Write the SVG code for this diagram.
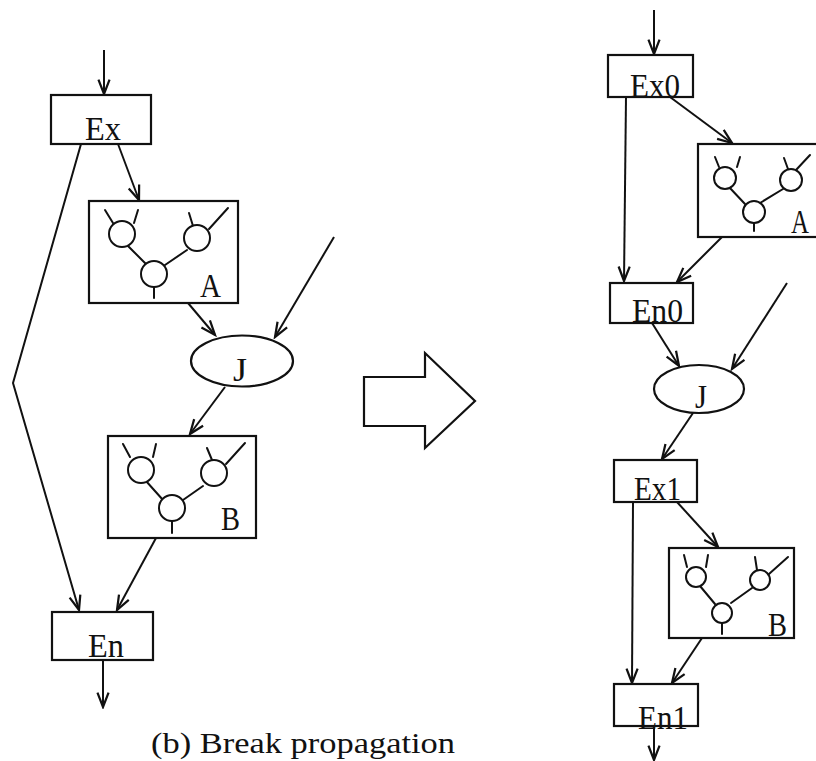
<svg xmlns="http://www.w3.org/2000/svg" width="816" height="761" viewBox="0 0 816 761">
<style>
.bx{fill:none;stroke:#111;stroke-width:2.2}
.ln{fill:none;stroke:#111;stroke-width:2;stroke-linecap:round}
.ar{fill:none;stroke:#111;stroke-width:2;marker-end:url(#ah)}
.c{fill:#fff;stroke:#111;stroke-width:2}
.t{font-family:"Liberation Serif","DejaVu Serif",serif;font-size:33px;fill:#111}
.cap{font-family:"Liberation Serif","DejaVu Serif",serif;font-size:29px;fill:#111}
</style>
<defs>
<marker id="ah" markerUnits="userSpaceOnUse" markerWidth="20" markerHeight="20" viewBox="-16 -8 18 16" refX="0" refY="0" orient="auto">
<path d="M-13,-5 L0,0 L-13,5" fill="none" stroke="#111" stroke-width="2"/>
</marker>
</defs>
<rect width="816" height="761" fill="#fff"/>

<g id="connectors">
<line class="ar" x1="104" y1="50" x2="104" y2="94"/>
<polyline class="ar" points="81,144 13,383 79,610"/>
<line class="ar" x1="118" y1="144" x2="139" y2="200"/>
<line class="ar" x1="188" y1="303" x2="215" y2="335"/>
<line class="ar" x1="334" y1="237" x2="275" y2="337"/>
<line class="ar" x1="225" y1="387" x2="190" y2="434"/>
<line class="ar" x1="156" y1="538" x2="117" y2="610"/>
<line class="ar" x1="103" y1="660" x2="103" y2="707"/>

<line class="ar" x1="654" y1="10" x2="654" y2="54"/>
<line class="ar" x1="626" y1="97" x2="624" y2="281"/>
<line class="ar" x1="670" y1="97" x2="732" y2="143"/>
<line class="ar" x1="722" y1="237" x2="677" y2="282"/>
<line class="ar" x1="652" y1="323" x2="679" y2="366"/>
<line class="ar" x1="787" y1="283" x2="732" y2="369"/>
<line class="ar" x1="693" y1="413" x2="662" y2="459"/>
<line class="ar" x1="633" y1="502" x2="632" y2="683"/>
<line class="ar" x1="677" y1="502" x2="718" y2="547"/>
<line class="ar" x1="702" y1="638" x2="672" y2="683"/>
<line class="ar" x1="654" y1="726" x2="654" y2="760"/>
</g>

<g id="ex">
<rect class="bx" x="51" y="95" width="100" height="49"/>
<text class="t" x="85" y="140" textLength="36" lengthAdjust="spacingAndGlyphs">Ex</text>
</g>

<g id="a">
<rect class="bx" x="89" y="201" width="149" height="102"/>
<line class="ln" x1="105" y1="210" x2="113" y2="223"/>
<line class="ln" x1="138" y1="210" x2="134" y2="223"/>
<line class="ln" x1="189" y1="213" x2="193" y2="226"/>
<line class="ln" x1="228" y1="208" x2="209" y2="229"/>
<line class="ln" x1="128" y1="246" x2="147" y2="265"/>
<line class="ln" x1="187" y1="250" x2="165" y2="265"/>
<line class="ln" x1="154" y1="287" x2="154" y2="298"/>
<circle class="c" cx="122" cy="234" r="13"/>
<circle class="c" cx="197" cy="238" r="13"/>
<circle class="c" cx="154" cy="274" r="13"/>
<text class="t" x="200" y="297" textLength="21" lengthAdjust="spacingAndGlyphs">A</text>
</g>

<g id="j">
<ellipse class="bx" cx="242" cy="361" rx="51" ry="25.5"/>
<text class="t" x="233" y="381" textLength="14" lengthAdjust="spacingAndGlyphs">J</text>
</g>

<g id="b">
<rect class="bx" x="108" y="436" width="148" height="102"/>
<line class="ln" x1="123" y1="444" x2="130" y2="457"/>
<line class="ln" x1="156" y1="444" x2="153" y2="457"/>
<line class="ln" x1="207" y1="448" x2="212" y2="460"/>
<line class="ln" x1="245" y1="443" x2="226" y2="464"/>
<line class="ln" x1="146" y1="481" x2="163" y2="500"/>
<line class="ln" x1="203" y1="486" x2="183" y2="500"/>
<line class="ln" x1="172" y1="521" x2="172" y2="533"/>
<circle class="c" cx="141" cy="470" r="13"/>
<circle class="c" cx="214" cy="473" r="13"/>
<circle class="c" cx="172" cy="508" r="13"/>
<text class="t" x="221" y="530" textLength="19" lengthAdjust="spacingAndGlyphs">B</text>
</g>

<g id="en">
<rect class="bx" x="52" y="612" width="101" height="48"/>
<text class="t" x="88" y="657" textLength="36" lengthAdjust="spacingAndGlyphs">En</text>
</g>

<g id="transform-arrow">
<polygon class="bx" points="364,377 425,377 425,353 475,401 425,448 425,426 364,426"/>
</g>

<g id="ex0">
<rect class="bx" x="608" y="55" width="85" height="42"/>
<text class="t" x="630" y="97" textLength="50" lengthAdjust="spacingAndGlyphs">Ex0</text>
</g>

<g id="a2">
<rect class="bx" x="698" y="144" width="125" height="93"/>
<line class="ln" x1="715" y1="157" x2="719" y2="167"/>
<line class="ln" x1="740" y1="157" x2="737" y2="167"/>
<line class="ln" x1="784" y1="158" x2="788" y2="169"/>
<line class="ln" x1="810" y1="155" x2="796" y2="170"/>
<line class="ln" x1="729" y1="187" x2="745" y2="204"/>
<line class="ln" x1="783" y1="189" x2="760" y2="203"/>
<line class="ln" x1="754" y1="223" x2="754" y2="231"/>
<circle class="c" cx="725" cy="178" r="11"/>
<circle class="c" cx="791" cy="180" r="11"/>
<circle class="c" cx="754" cy="212" r="11"/>
<text class="t" x="791" y="233" textLength="18" lengthAdjust="spacingAndGlyphs">A</text>
</g>

<g id="en0">
<rect class="bx" x="610" y="283" width="83" height="40"/>
<text class="t" x="632" y="322" textLength="51" lengthAdjust="spacingAndGlyphs">En0</text>
</g>

<g id="j2">
<ellipse class="bx" cx="699" cy="389" rx="45" ry="24"/>
<text class="t" x="695" y="408" textLength="12" lengthAdjust="spacingAndGlyphs">J</text>
</g>

<g id="ex1">
<rect class="bx" x="614" y="460" width="83" height="42"/>
<text class="t" x="634" y="500" textLength="47" lengthAdjust="spacingAndGlyphs">Ex1</text>
</g>

<g id="b2">
<rect class="bx" x="669" y="548" width="125" height="90"/>
<line class="ln" x1="684" y1="555" x2="687" y2="567"/>
<line class="ln" x1="708" y1="555" x2="706" y2="567"/>
<line class="ln" x1="755" y1="557" x2="757" y2="570"/>
<line class="ln" x1="788" y1="557" x2="769" y2="574"/>
<line class="ln" x1="700" y1="586" x2="715" y2="604"/>
<line class="ln" x1="752" y1="588" x2="731" y2="603"/>
<line class="ln" x1="722" y1="623" x2="722" y2="634"/>
<circle class="c" cx="696" cy="577" r="10"/>
<circle class="c" cx="760" cy="580" r="10"/>
<circle class="c" cx="722" cy="613" r="10"/>
<text class="t" x="768" y="636" textLength="19" lengthAdjust="spacingAndGlyphs">B</text>
</g>

<g id="en1">
<rect class="bx" x="614" y="684" width="84" height="42"/>
<text class="t" x="638" y="729" textLength="50" lengthAdjust="spacingAndGlyphs">En1</text>
</g>

<g id="caption">
<text class="cap" x="151" y="753" textLength="304" lengthAdjust="spacingAndGlyphs">(b) Break propagation</text>
</g>
</svg>
